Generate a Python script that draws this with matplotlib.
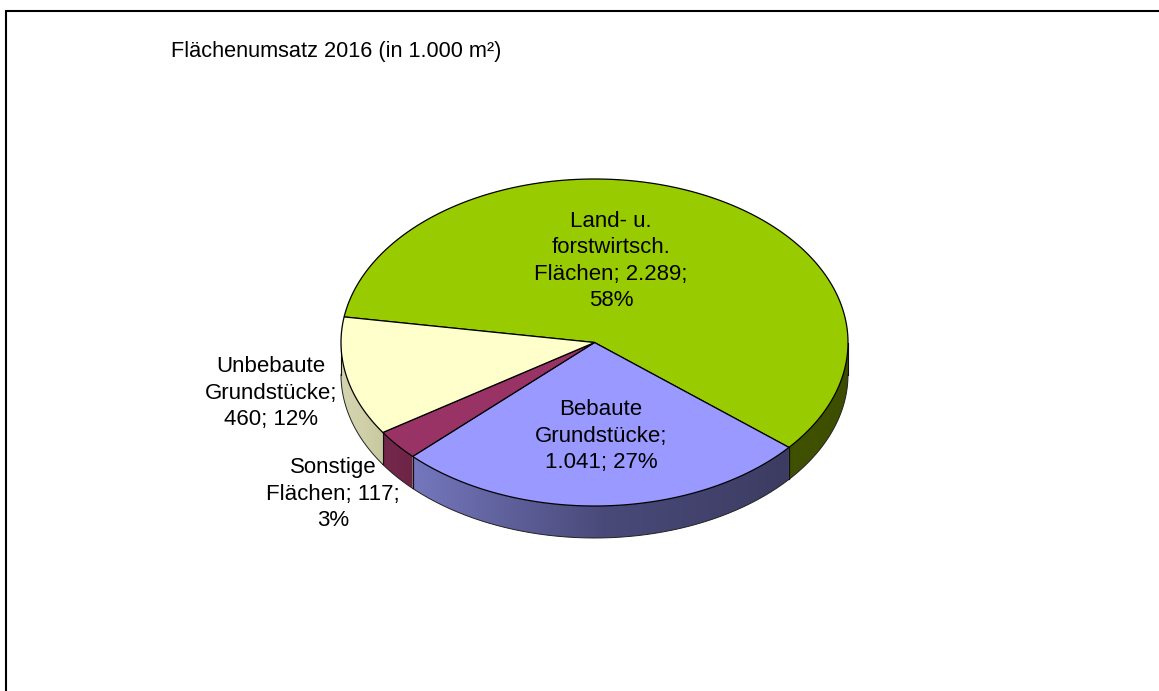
import numpy as np
import matplotlib
matplotlib.use('Agg')
import matplotlib.pyplot as plt
from matplotlib.patches import Polygon
from matplotlib.colors import LinearSegmentedColormap

plt.rcParams['font.family'] = ['Liberation Sans', 'DejaVu Sans']

title = 'Flächenumsatz 2016 (in 1.000 m²)'
values = [2289, 1041, 117, 460]
value_labels = ['Land- u.\nforstwirtsch.\nFlächen; 2.289;\n58%', 'Bebaute\nGrundstücke;\n1.041; 27%',
                'Sonstige\nFlächen; 117;\n3%', 'Unbebaute\nGrundstücke;\n460; 12%']
top_colors = ['#99cc00', '#9999ff', '#993366', '#ffffcc']
# wall shading from left to right
side_colors = [['#3f5000', '#3f5000', '#3d4d00'],
               ['#7477bd', '#4a4a7a', '#3c3c62'],
               ['#74284c', '#72264a', '#6c2444'],
               ['#d4d4b0', '#d0d0aa', '#c8c8a0']]
label_pos = [(611, 261), (601, 436), (333, 494), (271, 393)]

cx, cy, rx, ry = 594.5, 342.5, 253.5, 163.5
depth = 32
start = 171.0


def rim(a1, a2):
    t = np.radians(np.linspace(a1, a2, max(int(abs(a2 - a1) * 2), 2)))
    return cx + rx * np.cos(t), cy - ry * np.sin(t)


fig = plt.figure(figsize=(11.59, 6.91), dpi=100)
ax = fig.add_axes([0, 0, 1, 1])
ax.axis('off')

# frame, only top and left end inside the picture
ax.plot([6, 6, 1159], [691, 11, 11], color='#000000', lw=1.5, solid_joinstyle='miter')

sweep = np.array(values) / sum(values) * 360
edges = start - np.concatenate([[0], np.cumsum(sweep)])

# side walls first, only the part of the rim facing the viewer
for i in range(len(values)):
    hi = min(edges[i], 0)
    lo = max(edges[i + 1], -180)
    if hi <= lo:
        continue
    x, y = rim(hi, lo)
    px = np.concatenate([x, x[::-1]])
    py = np.concatenate([y, y[::-1] + depth])
    poly = Polygon(np.column_stack([px, py]), closed=True, fc='none', ec='none')
    ax.add_patch(poly)
    cmap = LinearSegmentedColormap.from_list('wall', side_colors[i])
    im = ax.imshow(np.linspace(0, 1, 256).reshape(1, -1), cmap=cmap, aspect='auto',
                   extent=[x.min(), x.max(), y.max() + depth, y.min()], zorder=1)
    im.set_clip_path(poly)
    ax.plot(x, y + depth, color='#222222', lw=0.7, zorder=2)
    ax.plot([x[0], x[0]], [y[0], y[0] + depth], color='#111111', lw=0.8, zorder=2)
    ax.plot([x[-1], x[-1]], [y[-1], y[-1] + depth], color='#111111', lw=0.8, zorder=2)

# top of the pie
for i in range(len(values)):
    x, y = rim(edges[i], edges[i + 1])
    pts = np.column_stack([np.r_[cx, x], np.r_[cy, y]])
    ax.add_patch(Polygon(pts, closed=True, fc=top_colors[i], ec='#000000', lw=0.9, zorder=3))

ax.set_xlim(0, 1159)
ax.set_ylim(691, 0)

for lab, (lx, ly) in zip(value_labels, label_pos):
    ax.text(lx, ly, lab, ha='center', va='center', fontsize=16, color='#000000',
            linespacing=1.33, zorder=5)
ax.text(171, 51, title, ha='left', va='center', fontsize=15.7, color='#000000', zorder=5)

fig.savefig('out.png', dpi=100, facecolor='white')
